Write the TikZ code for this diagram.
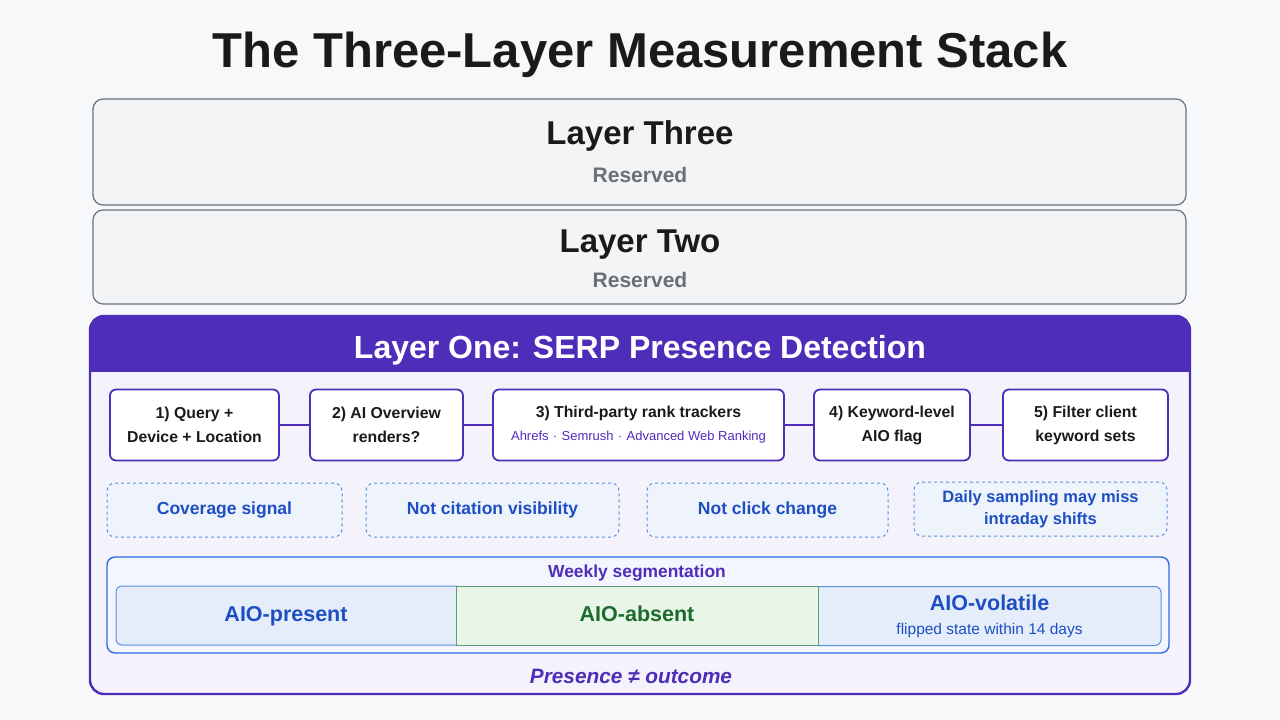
\documentclass[tikz,border=0pt]{standalone}
\usepackage{fontspec}
\setmainfont{Liberation Sans}
\usetikzlibrary{positioning}
\definecolor{BG}{HTML}{F7F8FA}
\definecolor{GF}{HTML}{F3F4F6}
\definecolor{GB}{HTML}{6B7280}
\definecolor{GT}{HTML}{6B6F76}
\definecolor{TX}{HTML}{1A1A1A}
\definecolor{PU}{RGB}{78,45,185}
\definecolor{PL}{HTML}{F4F3FC}
\definecolor{NF}{HTML}{EEF3FC}
\definecolor{NB}{HTML}{5A8FE0}
\definecolor{NT}{HTML}{1E4FC2}
\definecolor{WB}{HTML}{2F6BE0}
\definecolor{WF}{HTML}{F3F6FE}
\definecolor{SB}{HTML}{E5EDFA}
\definecolor{SG}{HTML}{E9F5E7}
\definecolor{GE}{HTML}{5E9E6E}
\definecolor{GD}{HTML}{1C6B2E}
\newcommand{\fs}[2]{\fontsize{#1}{#2}\selectfont}
\tikzset{
  stepbox/.style={draw=PU, line width=1.8pt, fill=white, rounded corners=6,
    minimum height=71, align=center, font=\fs{15.8}{24}\bfseries, text=TX, inner sep=0},
  notebox/.style={draw=NB, dashed, line width=1pt, fill=NF, rounded corners=8,
    minimum height=54, align=center, font=\fs{17.5}{22}\bfseries, text=NT, inner sep=0},
  segbox/.style={line width=1pt, minimum height=59, align=center, inner sep=0},
  conn/.style={draw=PU, line width=2pt}
}
\begin{document}
\begin{tikzpicture}[x=1pt, y=-1pt]
\useasboundingbox (0,0) rectangle (1280,720);
\fill[BG] (0,0) rectangle (1280,720);

% Title
\node[font=\fs{49}{55}\bfseries, text=TX] (title) at (640,55) {The Three-Layer Measurement Stack};

% Reserved layers
\draw[fill=GF, draw=GB, line width=1.2pt, rounded corners=10] (93,99) rectangle (1186,205);
\node[font=\fs{33}{38}\bfseries, text=TX] (l3) at (640,136) {Layer Three};
\node[font=\fs{21}{25}\bfseries, text=GT] (l3r) at (640,175) {Reserved};
\draw[fill=GF, draw=GB, line width=1.2pt, rounded corners=10] (93,210) rectangle (1186,304);
\node[font=\fs{33}{38}\bfseries, text=TX] (l2) at (640,245) {Layer Two};
\node[font=\fs{21}{25}\bfseries, text=GT] (l2r) at (640,280) {Reserved};

% Layer one frame and header
\fill[PL, rounded corners=14] (90,316) rectangle (1190,694);
\begin{scope}
  \clip[rounded corners=14] (90,316) rectangle (1190,694);
  \fill[PU] (90,316) rectangle (1190,372);
\end{scope}
\draw[PU, line width=2.4pt, rounded corners=14] (90,316) rectangle (1190,694);
\node[font=\fs{32}{36}\bfseries, text=white] (l1) at (640,350) {Layer One: SERP Presence Detection};

% Steps
\node[stepbox, minimum width=169] (s1) at (194.5,425) {1) Query +\\Device + Location};
\node[stepbox, minimum width=153] (s2) at (386.5,425) {2) AI Overview\\renders?};
\node[stepbox, minimum width=291] (s3) at (638.5,425)
  {3) Third-party rank trackers\\[-1pt]{\fs{13}{16}\mdseries\color{PU}Ahrefs\,\,·\,\,Semrush\,\,·\,\,Advanced Web Ranking}};
\node[stepbox, minimum width=156] (s4) at (892,425) {4) Keyword-level\\AIO flag};
\node[stepbox, minimum width=165] (s5) at (1085.5,425) {5) Filter client\\keyword sets};
\draw[conn] (s1) -- (s2);
\draw[conn] (s2) -- (s3);
\draw[conn] (s3) -- (s4);
\draw[conn] (s4) -- (s5);

% Caveats
\node[notebox, minimum width=235] (n1) at (224.5,510) {Coverage signal};
\node[notebox, minimum width=253] (n2) at (492.5,510) {Not citation visibility};
\node[notebox, minimum width=241] (n3) at (767.5,510) {Not click change};
\node[notebox, minimum width=253, font=\fs{16.5}{22}\bfseries] (n4) at (1040.5,509) {Daily sampling may miss\\intraday shifts};

% Weekly segmentation
\draw[fill=WF, draw=WB, line width=1.4pt, rounded corners=8] (107,557) rectangle (1169,653);
\node[font=\fs{17.4}{20}\bfseries, text=PU] (wk) at (637,573) {Weekly segmentation};
\node[segbox, draw=NB, fill=SB, rounded corners=6, minimum width=346, text height=16, text depth=5,
  font=\fs{21.5}{25}\bfseries, text=NT] (pres) at (289,615.5) {AIO-present\hspace*{6pt}};
\node[segbox, draw=NB, fill=SB, rounded corners=6, minimum width=349,
  font=\fs{15.5}{24}, text=NT] (vol) at (986.5,616)
  {\hspace*{6pt}{\fs{21.5}{24}\bfseries AIO-volatile}\\\hspace*{6pt}flipped state within 14 days};
\node[segbox, draw=GE, fill=SG, minimum width=362, text height=16, text depth=5,
  font=\fs{21.5}{25}\bfseries, text=GD] (abs) at (637,615.5) {AIO-absent};

% Footer
\node[font=\fs{20.8}{24}\bfseries\itshape, text=PU] (foot) at (631,676) {Presence ≠ outcome};
\end{tikzpicture}
\end{document}
